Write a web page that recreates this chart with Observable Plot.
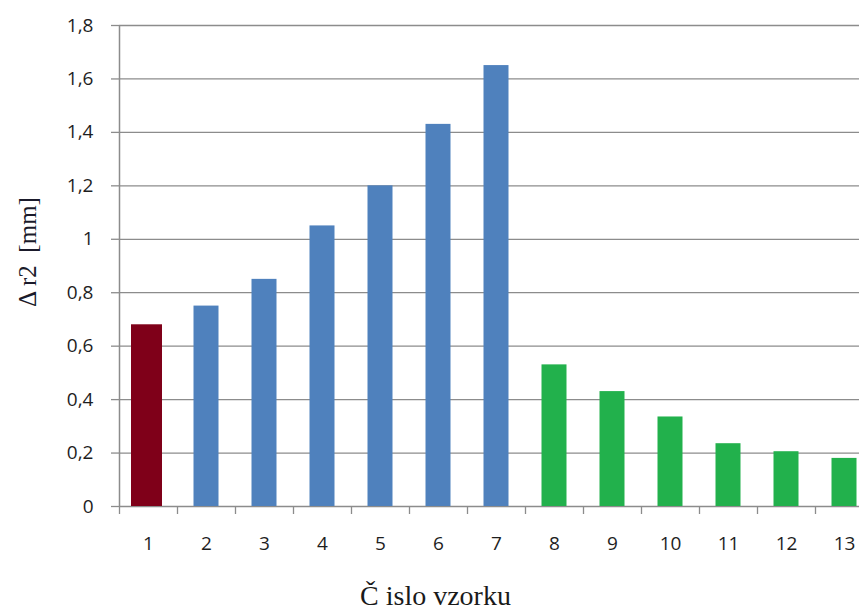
<!DOCTYPE html>
<html>
<head>
<meta charset="utf-8">
<script src="https://cdn.jsdelivr.net/npm/d3@7"></script>
<script src="https://cdn.jsdelivr.net/npm/@observablehq/plot@0.6"></script>
<style>
  html, body { margin: 0; padding: 0; background: #fff; overflow: hidden; }
  #chart { width: 859px; height: 612px; overflow: hidden; }
  #chart svg { max-width: none !important; }
</style>
</head>
<body>
<div id="chart"></div>
<script>
const samples = ["1","2","3","4","5","6","7","8","9","10","11","12","13"];
const values = [0.68, 0.75, 0.85, 1.05, 1.2, 1.43, 1.65, 0.53, 0.43, 0.335, 0.235, 0.205, 0.18];
const groups = ["ref","a","a","a","a","a","a","b","b","b","b","b","b"];
const groupNames = ["ref","a","b"];
const groupColors = ["#7f0019","#4f81bd","#22b14c"];
const yTicks = [0, 0.2, 0.4, 0.6, 0.8, 1, 1.2, 1.4, 1.6, 1.8];
const xTitle = "Č islo vzorku";
const yTitle = "Δ r2  [mm]";

const data = samples.map((s, i) => ({sample: s, value: values[i], group: groups[i]}));
const grid = "#8c8c8c";
const fmt = d => String(d).replace(".", ",");
const sans = "'Open Sans', 'Liberation Sans', sans-serif";
const serif = "'Liberation Serif', 'DejaVu Serif', serif";

const chart = Plot.plot({
  width: 873,
  height: 612,
  marginLeft: 119,
  marginRight: 0,
  marginTop: 25,
  marginBottom: 106,
  style: {fontFamily: sans, color: "#1e1e1e", background: "#fff", maxWidth: "none"},
  x: {domain: samples, padding: 0, label: null, axis: null},
  y: {domain: [0, 1.8], label: null, axis: null},
  color: {domain: groupNames, range: groupColors, legend: false},
  marks: [
    Plot.gridY(yTicks, {stroke: grid, strokeOpacity: 1, strokeWidth: 1.3}),
    Plot.axisY(yTicks, {tickSize: 8, tickFormat: () => "", stroke: grid, strokeWidth: 1.3, label: null}),
    Plot.text(yTicks, {y: d => d, text: fmt, frameAnchor: "left", textAnchor: "end", dx: -26, fontSize: 19, fontFamily: sans, fill: "#1e1e1e"}),
    Plot.ruleX([0], {x: () => samples[0], dx: -29, y1: 0, y2: 1.8, stroke: grid, strokeWidth: 1.5}),
    Plot.axisX(samples, {tickSize: 8, dx: -29, tickFormat: () => "", stroke: grid, strokeWidth: 1.3, label: null}),
    Plot.text(samples, {x: d => d, text: d => d, frameAnchor: "bottom", lineAnchor: "middle", dy: 37, fontSize: 19, fontFamily: sans, fill: "#1e1e1e"}),
    Plot.barY(data.filter(d => d.group === "ref"), {x: "sample", y: "value", fill: "group", insetLeft: 12, insetRight: 15}),
    Plot.barY(data.filter(d => d.group !== "ref"), {x: "sample", y: "value", fill: "group", insetLeft: 16.5, insetRight: 16.5}),
    Plot.text([xTitle], {frameAnchor: "bottom", text: d => d, textAnchor: "middle", dx: -61, dy: 98, lineAnchor: "bottom", fontFamily: serif, fontSize: 28, fill: "#1a1a1a"}),
    Plot.text([yTitle], {frameAnchor: "left", text: d => d, textAnchor: "middle", rotate: -90, dx: -92, dy: -14, fontFamily: serif, fontSize: 25, fill: "#1a1a2a"})
  ]
});
document.getElementById("chart").appendChild(chart);
</script>
</body>
</html>
